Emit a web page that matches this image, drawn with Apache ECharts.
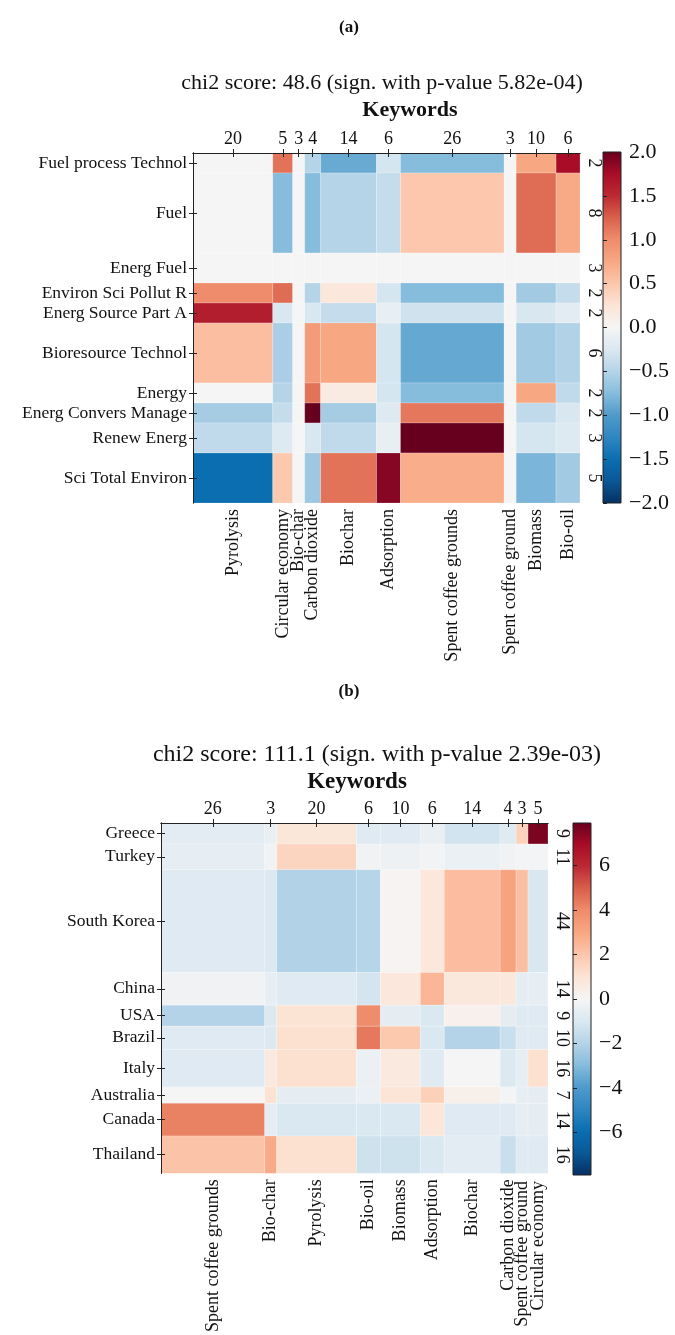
<!DOCTYPE html>
<html>
<head>
<meta charset="utf-8">
<script src="https://cdn.jsdelivr.net/npm/echarts@6/dist/echarts.min.js"></script>
<style>
  html, body { margin: 0; padding: 0; background: #fff; }
  #main { width: 675px; height: 1335px; }
</style>
</head>
<body>
<div id="main"></div>
<script>
// ---- panel (a): journals vs keywords ----
const keywordsA = ['Pyrolysis', 'Circular economy', 'Bio-char', 'Carbon dioxide', 'Biochar',
  'Adsorption', 'Spent coffee grounds', 'Spent coffee ground', 'Biomass', 'Bio-oil'];
const keywordCountsA = [20, 5, 3, 4, 14, 6, 26, 3, 10, 6];
const journalsA = ['Fuel process Technol', 'Fuel', 'Energ Fuel', 'Environ Sci Pollut R',
  'Energ Source Part A', 'Bioresource Technol', 'Energy', 'Energ Convers Manage',
  'Renew Energ', 'Sci Total Environ'];
const journalCountsA = [2, 8, 3, 2, 2, 6, 2, 2, 3, 5];
// residuals, one row per journal, columns in keywordsA order
const residualsA = [
  [0, 1.15, 0, -0.5, -0.88, -0.28, -0.75, 0, 0.75, 1.75],
  [0, -0.75, 0, -0.75, -0.5, -0.4, 0.5, 0, 1.18, 0.73],
  [0, 0, 0, 0, 0, 0, 0, 0, 0, 0],
  [1.0, 1.18, 0, -0.5, 0.2, -0.28, -0.75, 0, -0.6, -0.4],
  [1.6, -0.26, 0, -0.26, -0.4, -0.12, -0.32, 0, -0.26, -0.18],
  [0.57, -0.56, 0, 0.85, 0.75, -0.28, -0.9, 0, -0.6, -0.52],
  [0, -0.5, 0, 1.15, 0.15, -0.28, -0.75, 0, 0.75, -0.42],
  [-0.58, -0.4, 0, 2.0, -0.58, -0.22, 1.12, 0, -0.42, -0.26],
  [-0.42, -0.22, 0, -0.26, -0.42, -0.12, 2.0, 0, -0.28, -0.22],
  [-1.5, 0.48, 0, -0.62, 1.15, 1.88, 0.7, 0, -0.8, -0.6]
];
const titleA = 'chi2 score: 48.6 (sign. with p-value 5.82e-04)';

// ---- panel (b): countries vs keywords ----
const keywordsB = ['Spent coffee grounds', 'Bio-char', 'Pyrolysis', 'Bio-oil', 'Biomass',
  'Adsorption', 'Biochar', 'Carbon dioxide', 'Spent coffee ground', 'Circular economy'];
const keywordCountsB = [26, 3, 20, 6, 10, 6, 14, 4, 3, 5];
const countriesB = ['Greece', 'Turkey', 'South Korea', 'China', 'USA', 'Brazil', 'Italy',
  'Australia', 'Canada', 'Thailand'];
const countryCountsB = [9, 11, 44, 14, 9, 10, 16, 7, 14, 16];
const residualsB = [
  [-0.7, -0.45, 0.85, -0.8, -0.8, -0.45, -1.2, -0.8, 1.6, 7.6],
  [-0.5, -0.2, 1.5, -0.2, -0.3, -0.15, -0.4, -0.2, -0.1, -0.1],
  [-0.8, -0.9, -2.05, -1.95, 0.1, 0.8, 2.3, 3.1, 2.2, -1.05],
  [-0.2, -0.5, -0.8, -1.15, 0.8, 2.5, 0.75, 0.75, -0.6, -0.5],
  [-2.0, -0.9, 1.0, 3.95, -0.6, -1.0, 0.3, -0.6, -0.8, -0.8],
  [-0.8, -0.9, 1.1, 4.4, 1.9, -1.0, -2.0, -1.45, -0.8, -0.8],
  [-0.8, 0.7, 1.1, -0.4, 0.7, -0.8, 0, -0.9, -0.5, 1.1],
  [0, 1.05, -0.6, -0.4, 0.95, 1.65, 0.35, -0.1, -0.5, -0.6],
  [4.2, -0.6, -1.0, -1.0, -1.0, 0.9, -0.8, -0.8, -0.5, -0.6],
  [2.1, 2.85, 1.1, -1.3, -1.3, -1.0, -0.7, -1.45, -0.8, -0.8]
];
const titleB = 'chi2 score: 111.1 (sign. with p-value 2.39e-03)';

const colorTicksA = [-2, -1.5, -1, -0.5, 0, 0.5, 1, 1.5, 2];
const colorTicksB = [-6, -4, -2, 0, 2, 4, 6];

// RdBu_r like ramp, low -> high
const ramp = ['#053061', '#0b5796', '#0a6eb0', '#2f86c0', '#4f9acb', '#86bcdc', '#b5d4e8',
  '#dae8f1', '#f5f5f5', '#fce4d6', '#fcc7ac', '#f8a783', '#ef8c6b', '#d9604c', '#bb2a33',
  '#a80c27', '#67001f'];

const FONT = '"Liberation Serif", "Times New Roman", serif';
const INK = '#111';

function edges(counts) {
  const e = [0];
  counts.forEach(c => e.push(e[e.length - 1] + c));
  return e;
}
function centers(counts) {
  const e = edges(counts);
  return counts.map((c, i) => e[i] + c / 2);
}
function pick(list, cs) {
  return v => {
    let best = 0;
    cs.forEach((c, i) => { if (Math.abs(c - v) < Math.abs(cs[best] - v)) best = i; });
    return list[best];
  };
}
function cells(colCounts, rowCounts, vals) {
  const xe = edges(colCounts), ye = edges(rowCounts), out = [];
  vals.forEach((row, r) => row.forEach((v, c) => {
    out.push([xe[c], xe[c + 1], ye[r], ye[r + 1], v]);
  }));
  return out;
}

function cellItem(params, api) {
  const p0 = api.coord([api.value(0), api.value(2)]);
  const p1 = api.coord([api.value(1), api.value(3)]);
  return {
    type: 'rect',
    shape: {
      x: Math.min(p0[0], p1[0]), y: Math.min(p0[1], p1[1]),
      width: Math.abs(p1[0] - p0[0]), height: Math.abs(p1[1] - p0[1])
    },
    style: { fill: api.visual('color'), stroke: 'rgba(255,255,255,0.35)', lineWidth: 0.6 }
  };
}
function barItem(params) {
  const cs = params.coordSys;
  const stops = ramp.slice().reverse().map((c, i) => ({ offset: i / (ramp.length - 1), color: c }));
  return {
    type: 'rect',
    shape: { x: cs.x, y: cs.y, width: cs.width, height: cs.height },
    style: { fill: new echarts.graphic.LinearGradient(0, 0, 0, 1, stops), stroke: '#222', lineWidth: 1 }
  };
}

const lbl = (size, extra) => Object.assign({ fontFamily: FONT, fontSize: size, color: INK,
  hideOverlap: false }, extra || {});
const line = { show: true, lineStyle: { color: '#222', width: 1 } };

// crowded keyword labels at the end of an axis get their own overlay grid,
// otherwise echarts drops one of them
function panelAxes(g, cols, colCounts, rows, rowCounts, solo) {
  const xc = centers(colCounts), yc = centers(rowCounts);
  const xMax = edges(colCounts).pop(), yMax = edges(rowCounts).pop();
  const xBase = { type: 'value', gridIndex: g, min: 0, max: xMax, z: 10, splitLine: { show: false }, axisLine: line };
  const yBase = { type: 'value', gridIndex: g, min: 0, max: yMax, inverse: true, z: 10, splitLine: { show: false }, axisLine: line };
  const tick = cv => ({ show: true, customValues: cv, length: 4, lineStyle: { color: '#222' } });
  const keep = xc.length - solo.length;
  const extraX = solo.map(gi => ({
    type: 'value', gridIndex: gi, min: 0, max: xMax, position: 'bottom', z: 10,
    splitLine: { show: false }, axisLine: { show: false }, axisTick: { show: false },
    axisLabel: lbl(18, { customValues: [xc[keep + solo.indexOf(gi)]], rotate: 90, margin: 6,
      formatter: pick(cols, xc) })
  }));
  const extraY = solo.map(gi => ({ type: 'value', gridIndex: gi, min: 0, max: 1, show: false }));
  return {
    x: [
      Object.assign({}, xBase, { position: 'top', axisTick: tick(xc),
        axisLabel: lbl(18, { customValues: xc, margin: 5, formatter: pick(colCounts.map(String), xc) }) }),
      Object.assign({}, xBase, { position: 'bottom', axisTick: tick(xc),
        axisLabel: lbl(18, { customValues: xc.slice(0, keep), rotate: 90, margin: 6, formatter: pick(cols, xc) }) })
    ].concat(extraX),
    y: [
      Object.assign({}, yBase, { position: 'left', axisTick: tick(yc),
        axisLabel: lbl(17.5, { customValues: yc, margin: 6, formatter: pick(rows, yc) }) }),
      Object.assign({}, yBase, { position: 'right', axisTick: tick(yc),
        axisLabel: lbl(18, { customValues: yc, rotate: -90, margin: 5, formatter: pick(rowCounts.map(String), yc) }) })
    ].concat(extraY)
  };
}

function barAxes(g, lim, ticks, fmt) {
  return {
    x: { type: 'value', gridIndex: g, min: 0, max: 1, show: false },
    y: { type: 'value', gridIndex: g, min: -lim, max: lim, position: 'right', z: 10,
      splitLine: { show: false }, axisLine: { show: false },
      axisTick: { show: true, customValues: ticks, length: 4, lineStyle: { color: '#222' } },
      axisLabel: lbl(22, { customValues: ticks, margin: 8, formatter: fmt }) }
  };
}

const axA = panelAxes(0, keywordsA, keywordCountsA, journalsA, journalCountsA, []);
const axB = panelAxes(2, keywordsB, keywordCountsB, countriesB, countryCountsB, [4, 5]);
const minus = s => s.replace('-', '\u2212');
const barA = barAxes(1, 2, colorTicksA, v => minus(v.toFixed(1)));
const barB = barAxes(3, 7.9, colorTicksB, v => minus(String(Math.round(v))));

function text(str, x, y, size, bold) {
  return {
    type: 'text', x: x, y: y,
    style: { text: str, font: (bold ? 'bold ' : '') + size + 'px ' + FONT, fill: INK,
      textAlign: 'center', textVerticalAlign: 'middle', align: 'center', verticalAlign: 'middle' }
  };
}

const gridB = { left: 161, top: 823, width: 387, height: 352 };

const chart = echarts.init(document.getElementById('main'));
chart.setOption({
  backgroundColor: '#fff',
  animation: false,
  graphic: [
    text('(a)', 349, 28, 17, true),
    text(titleA, 382, 83, 22, false),
    text('Keywords', 410, 110, 22, true),
    text('(b)', 349, 692, 17, true),
    text(titleB, 377, 755, 24, false),
    text('Keywords', 357, 782, 23, true)
  ],
  grid: [
    { left: 193, top: 153, width: 387, height: 350 },
    { left: 603, top: 152, width: 18, height: 351 },
    gridB,
    { left: 573, top: 823, width: 18, height: 352 },
    Object.assign({}, gridB),
    Object.assign({}, gridB)
  ],
  // axis order: A heat (0,1), A bar (2), B heat (3,4), B overlays (5,6), B bar (7)
  xAxis: [axA.x[0], axA.x[1], barA.x].concat(axB.x).concat([barB.x]),
  yAxis: [axA.y[0], axA.y[1], barA.y].concat(axB.y).concat([barB.y]),
  visualMap: [
    { show: false, type: 'continuous', seriesIndex: 0, dimension: 4, min: -2, max: 2, inRange: { color: ramp } },
    { show: false, type: 'continuous', seriesIndex: 2, dimension: 4, min: -7.9, max: 7.9, inRange: { color: ramp } }
  ],
  series: [
    { type: 'custom', xAxisIndex: 0, yAxisIndex: 0, renderItem: cellItem,
      encode: { x: [0, 1], y: [2, 3] }, data: cells(keywordCountsA, journalCountsA, residualsA) },
    { type: 'custom', xAxisIndex: 2, yAxisIndex: 2, renderItem: barItem, data: [[0.5, 0]] },
    { type: 'custom', xAxisIndex: 3, yAxisIndex: 3, renderItem: cellItem,
      encode: { x: [0, 1], y: [2, 3] }, data: cells(keywordCountsB, countryCountsB, residualsB) },
    { type: 'custom', xAxisIndex: 7, yAxisIndex: 7, renderItem: barItem, data: [[0.5, 0]] }
  ]
});
</script>
</body>
</html>
